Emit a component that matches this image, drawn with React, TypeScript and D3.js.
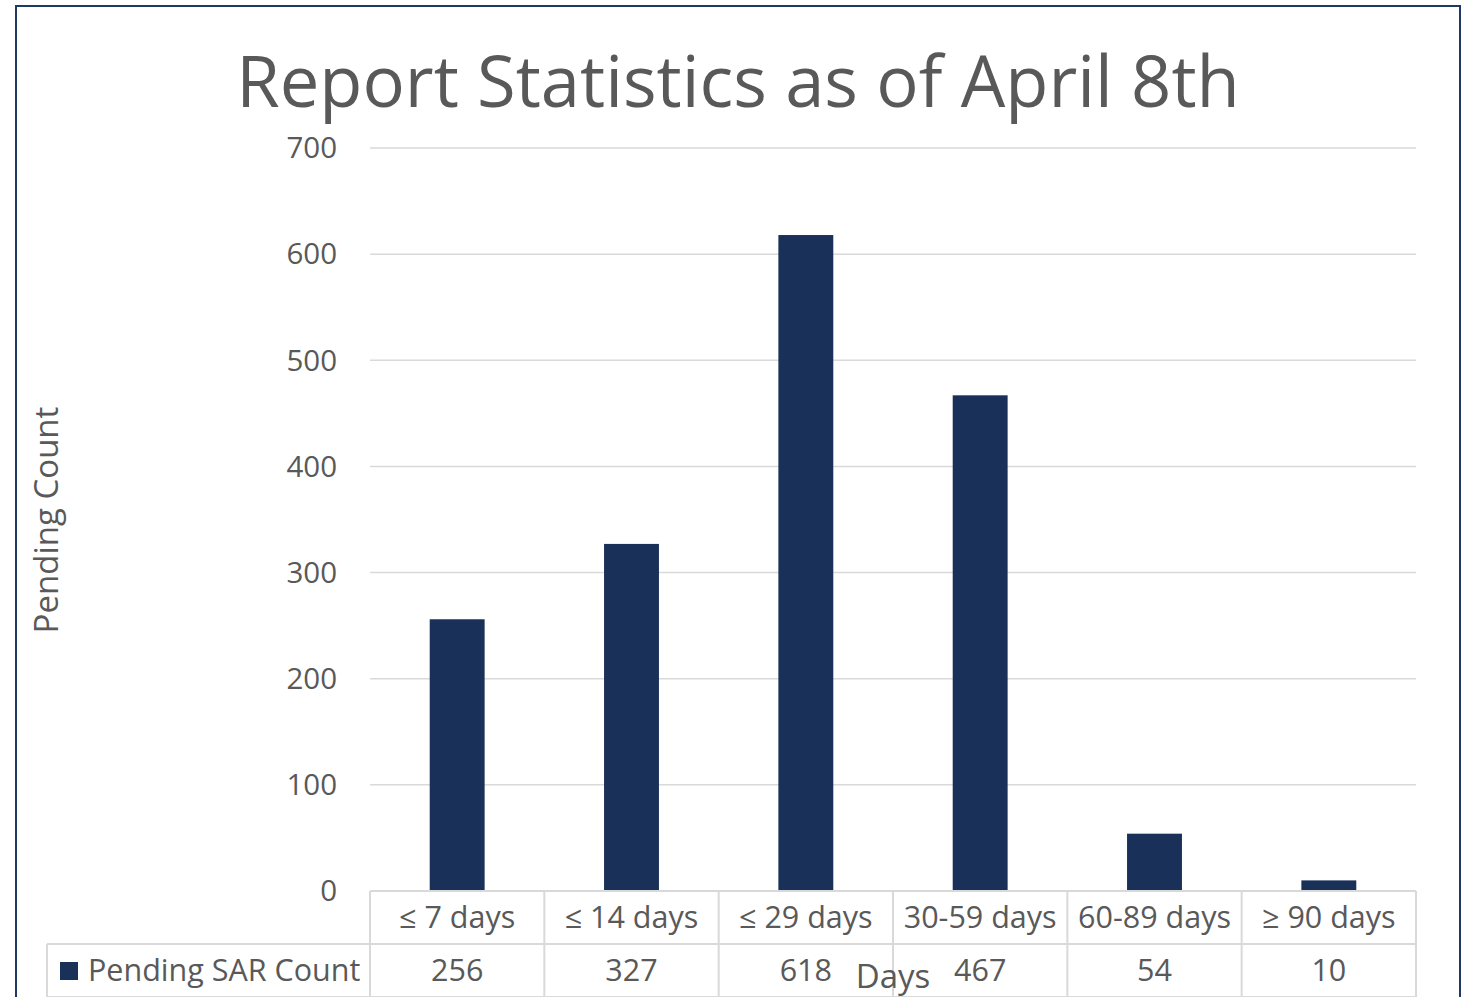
import React from "react";
import * as d3 from "d3";

const categories = ["≤ 7 days", "≤ 14 days", "≤ 29 days", "30-59 days", "60-89 days", "≥ 90 days"];
const values = [256, 327, 618, 467, 54, 10];
const yTicks = [0, 100, 200, 300, 400, 500, 600, 700];
const seriesName = "Pending SAR Count";
const title = "Report Statistics as of April 8th";
const xTitle = "Days";
const yTitle = "Pending Count";

const W = 1468;
const H = 997;
const plotLeft = 370;
const plotRight = 1416;
const plotTop = 148;
const plotBottom = 891;
const rowH = 53;
const FONT = "'Open Sans', 'Noto Sans', sans-serif";
const TEXT = "#595959";
const GRID = "#d9d9d9";
const BAR = "#193058";

export default function App() {
  const x = d3.scaleBand<string>().domain(categories).range([plotLeft, plotRight]).paddingInner(0).paddingOuter(0);
  const y = d3.scaleLinear().domain([0, 700]).range([plotBottom, plotTop]);
  const bw = x.bandwidth();
  const barW = bw * 0.315;
  const row1 = plotBottom;
  const row2 = plotBottom + rowH;
  const row3 = plotBottom + 2 * rowH;
  const legendLeft = 47;

  return (
    <svg width={W} height={H} style={{ position: "absolute", left: 0, top: 0, background: "#fff" }} fontFamily={FONT}>
      <rect x={16} y={6} width={1444} height={1020} fill="#fff" stroke="#1f3864" strokeWidth={2} />
      <text x={738} y={107} textAnchor="middle" fontSize={70.5} fill={TEXT}>{title}</text>
      {yTicks.map((t) => (
        <g key={t}>
          {t > 0 && <line x1={plotLeft} x2={plotRight} y1={y(t)} y2={y(t)} stroke={GRID} strokeWidth={1.5} />}
          <text x={337} y={y(t)} dy="0.35em" textAnchor="end" fontSize={29.5} fill={TEXT}>{t}</text>
        </g>
      ))}
      {categories.map((c, i) => (
        <rect key={c} x={(x(c) as number) + bw / 2 - barW / 2} y={y(values[i])} width={barW} height={y(0) - y(values[i])} fill={BAR} />
      ))}
      <g stroke={GRID} strokeWidth={2} fill="none">
        <line x1={plotLeft} x2={plotRight} y1={row1} y2={row1} />
        <line x1={legendLeft} x2={plotRight} y1={row2} y2={row2} />
        <line x1={legendLeft} x2={plotRight} y1={row3} y2={row3} />
        <line x1={legendLeft} x2={legendLeft} y1={row2} y2={row3} />
        {categories.map((c) => (
          <line key={c} x1={x(c) as number} x2={x(c) as number} y1={row1} y2={row3} />
        ))}
        <line x1={plotRight} x2={plotRight} y1={row1} y2={row3} />
      </g>
      {categories.map((c, i) => (
        <g key={c}>
          <text x={(x(c) as number) + bw / 2} y={row1 + rowH / 2} dy="0.35em" textAnchor="middle" fontSize={30.5} fill={TEXT}>{c}</text>
          <text x={(x(c) as number) + bw / 2} y={row2 + rowH / 2} dy="0.35em" textAnchor="middle" fontSize={30.5} fill={TEXT}>{values[i]}</text>
        </g>
      ))}
      <rect x={60} y={962} width={18} height={18} fill={BAR} />
      <text x={88} y={row2 + rowH / 2} dy="0.35em" fontSize={30.5} fill={TEXT}>{seriesName}</text>
      <text x={893} y={988} textAnchor="middle" fontSize={33} fill={TEXT}>{xTitle}</text>
      <text transform={`translate(58,520) rotate(-90)`} textAnchor="middle" fontSize={33} fill={TEXT}>{yTitle}</text>
    </svg>
  );
}
